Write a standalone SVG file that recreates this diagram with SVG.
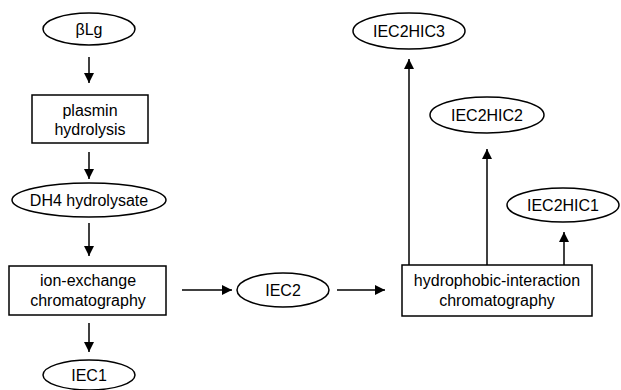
<svg xmlns="http://www.w3.org/2000/svg" width="621" height="390" viewBox="0 0 621 390">
<style>
.n{fill:#fff;stroke:#000;stroke-width:1.5}
.t{font-family:"Liberation Sans",Arial,sans-serif;font-size:16px;fill:#000;text-anchor:middle}
.c{stroke:#000;stroke-width:1.5;fill:none;marker-end:url(#ah)}
</style>
<defs>
<marker id="ah" viewBox="0 0 10 10" refX="10" refY="5" markerWidth="10" markerHeight="10" markerUnits="userSpaceOnUse" orient="auto">
<path d="M0,0 L10,5 L0,10 Z" fill="#000"/>
</marker>
</defs>
<rect width="621" height="390" fill="#fff"/>
<g id="connectors">
<line class="c" x1="89" y1="57" x2="89" y2="83"/>
<line class="c" x1="89" y1="152" x2="89" y2="179"/>
<line class="c" x1="89" y1="223" x2="89" y2="256"/>
<line class="c" x1="89" y1="323" x2="89" y2="352"/>
<line class="c" x1="182" y1="290" x2="232" y2="290"/>
<line class="c" x1="337" y1="290" x2="385" y2="290"/>
<line class="c" x1="409" y1="265" x2="409" y2="59"/>
<line class="c" x1="487" y1="265" x2="487" y2="149"/>
<line class="c" x1="564" y1="265" x2="564" y2="232"/>
</g>
<g id="blg">
<ellipse class="n" cx="89" cy="29" rx="46" ry="16"/>
<text class="t" x="89" y="35">βLg</text>
</g>
<g id="plasmin">
<rect class="n" x="32" y="95" width="116" height="48"/>
<text class="t" x="90" y="116">plasmin</text>
<text class="t" x="90" y="135">hydrolysis</text>
</g>
<g id="dh4">
<ellipse class="n" cx="89" cy="200" rx="77" ry="17"/>
<text class="t" x="89" y="206">DH4 hydrolysate</text>
</g>
<g id="iec">
<rect class="n" x="9" y="266" width="157" height="49"/>
<text class="t" x="88" y="286">ion-exchange</text>
<text class="t" x="88" y="306">chromatography</text>
</g>
<g id="iec1">
<ellipse class="n" cx="89" cy="375" rx="46" ry="15"/>
<text class="t" x="89" y="381">IEC1</text>
</g>
<g id="iec2">
<ellipse class="n" cx="283" cy="290" rx="46" ry="17"/>
<text class="t" x="283" y="296">IEC2</text>
</g>
<g id="hic">
<rect class="n" x="402" y="265" width="190" height="51"/>
<text class="t" x="497" y="286">hydrophobic-interaction</text>
<text class="t" x="497" y="306">chromatography</text>
</g>
<g id="iec2hic3">
<ellipse class="n" cx="409" cy="31" rx="56" ry="18"/>
<text class="t" x="409" y="37">IEC2HIC3</text>
</g>
<g id="iec2hic2">
<ellipse class="n" cx="487" cy="115" rx="57" ry="18"/>
<text class="t" x="487" y="121">IEC2HIC2</text>
</g>
<g id="iec2hic1">
<ellipse class="n" cx="563" cy="205" rx="56" ry="17"/>
<text class="t" x="563" y="211">IEC2HIC1</text>
</g>
</svg>
